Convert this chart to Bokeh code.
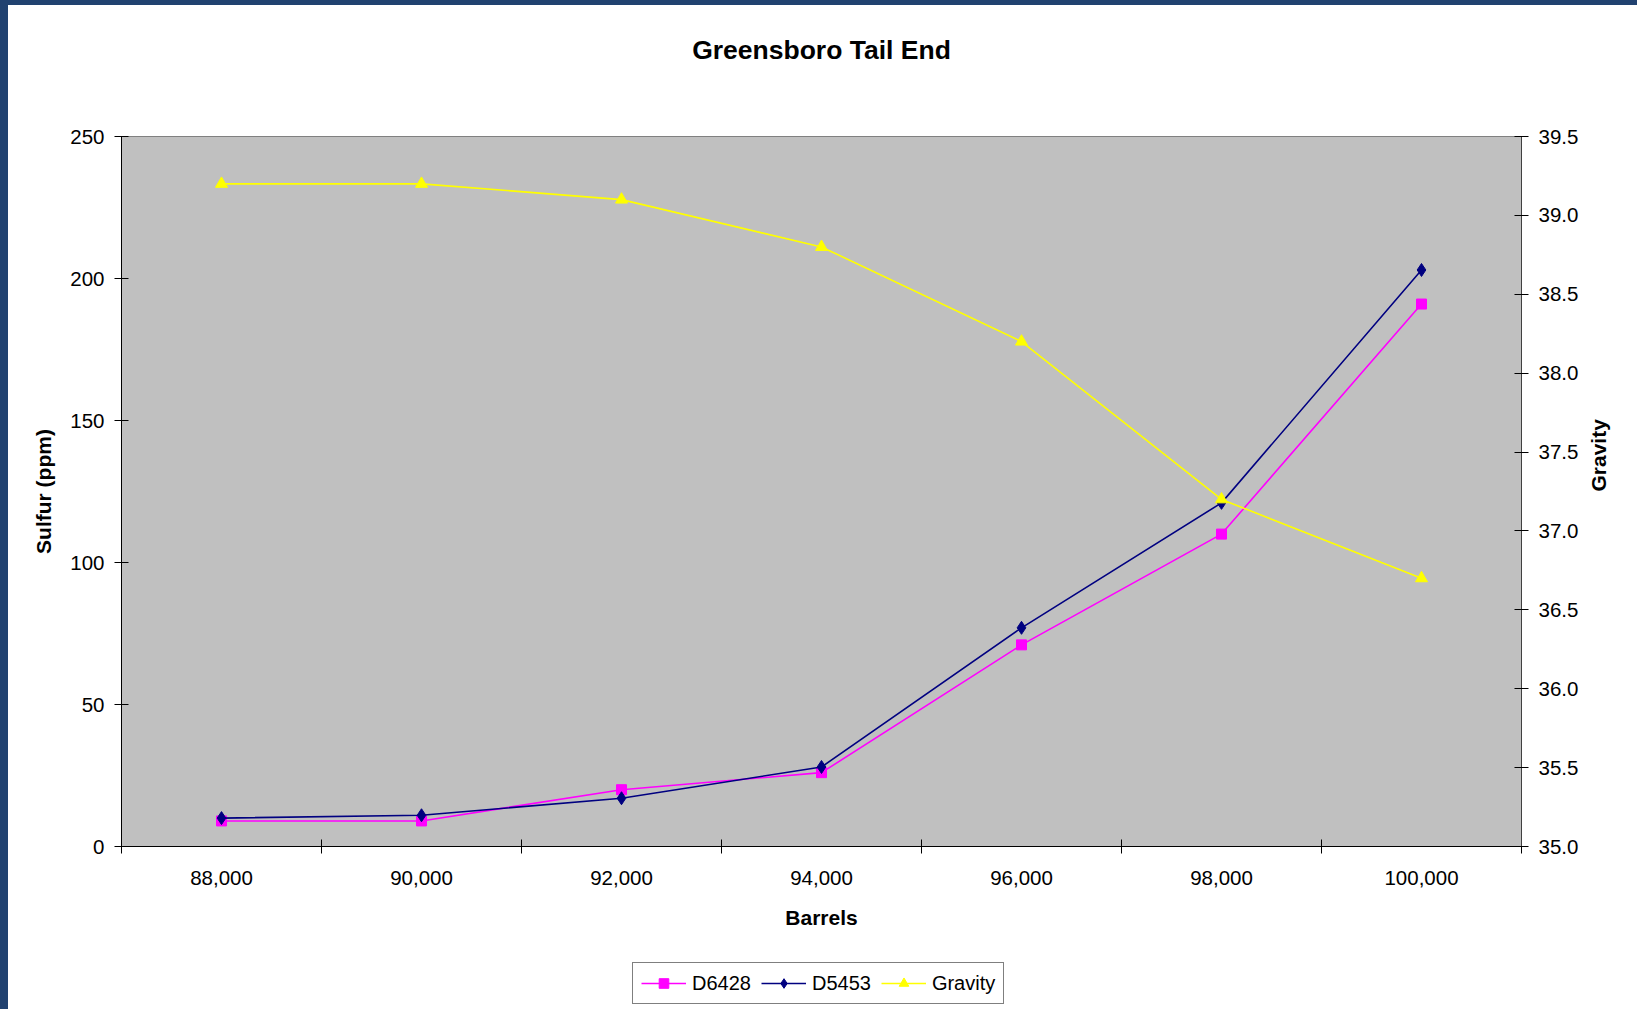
import math
from bokeh.plotting import figure
from bokeh.layouts import column
from bokeh.models import (Range1d, LinearAxis, FixedTicker, NumeralTickFormatter,
                          PrintfTickFormatter, Legend, LegendItem)
from bokeh.embed import file_html
from bokeh.resources import INLINE

# ---- data ----
barrels = [88000, 90000, 92000, 94000, 96000, 98000, 100000]
d6428 = [9, 9, 20, 26, 71, 110, 191]
d5453 = [10, 11, 17, 28, 77, 121, 203]
gravity = [39.2, 39.2, 39.1, 38.8, 38.2, 37.2, 36.7]

x_boundaries = [87000, 89000, 91000, 93000, 95000, 97000, 99000, 101000]
sulfur_ticks = [0, 50, 100, 150, 200, 250]
gravity_ticks = [35.0, 35.5, 36.0, 36.5, 37.0, 37.5, 38.0, 38.5, 39.0, 39.5]

title_text = "Greensboro Tail End"
x_label = "Barrels"
y_label = "Sulfur (ppm)"
y2_label = "Gravity"
series_names = ["D6428", "D5453", "Gravity"]

FONT = "Liberation Sans"
MAGENTA = "#FF00FF"
NAVY = "#000080"
YELLOW = "#FFFF00"
SLIDE_BLUE = "#214270"

# slide frame: blue strip on the left (8px) and top (5px)
BL, BT = 8, 5
W = 1637 - BL
H_MAIN = 950 - BT
H_LEG = 1009 - 950
ML, MR, MT = 121 - BL, 116, 136 - BT
MB = H_MAIN - (846 - BT)

p = figure(width=W, height=H_MAIN, x_range=Range1d(87000, 101000), y_range=Range1d(0, 250),
           output_backend="svg", toolbar_location=None,
           min_border_left=ML, min_border_right=MR, min_border_top=MT, min_border_bottom=MB,
           background_fill_color="#C0C0C0", border_fill_color="white",
           outline_line_color="#808080", outline_line_width=1)
p.extra_y_ranges = {"grav": Range1d(35, 39.5)}
p.xgrid.visible = False
p.ygrid.visible = False

# x axis (bottom)
xa = p.below[0]
xa.ticker = FixedTicker(ticks=barrels, minor_ticks=x_boundaries)
xa.formatter = NumeralTickFormatter(format="0,0")
xa.major_tick_in = 0
xa.major_tick_out = 0
xa.minor_tick_in = 7
xa.minor_tick_out = 7
xa.minor_tick_line_color = "black"
xa.axis_line_color = "black"
xa.major_label_standoff = 17
xa.major_label_text_font = FONT
xa.major_label_text_font_size = "20.5px"
xa.major_label_text_color = "black"
xa.axis_label = x_label
xa.axis_label_text_font = FONT
xa.axis_label_text_font_size = "21px"
xa.axis_label_text_font_style = "bold"
xa.axis_label_text_color = "black"
xa.axis_label_standoff = 18

# chart title, drawn as the label of a tick-less top axis
ta = LinearAxis(ticker=FixedTicker(ticks=[]), axis_line_color=None,
                major_tick_line_color=None, minor_tick_line_color=None,
                major_label_text_font_size="0px", major_label_standoff=0,
                axis_label=title_text, axis_label_text_font=FONT,
                axis_label_text_font_size="26.5px", axis_label_text_font_style="bold",
                axis_label_text_color="black", axis_label_standoff=72)
p.add_layout(ta, "above")

# left axis
ya = p.left[0]
ya.ticker = FixedTicker(ticks=sulfur_ticks)
ya.major_tick_in = 7
ya.major_tick_out = 7
ya.minor_tick_line_color = None
ya.axis_line_color = "black"
ya.major_label_standoff = 10
ya.major_label_text_font = FONT
ya.major_label_text_font_size = "20.5px"
ya.major_label_text_color = "black"
ya.axis_label = y_label
ya.axis_label_text_font = FONT
ya.axis_label_text_font_size = "21px"
ya.axis_label_text_font_style = "bold"
ya.axis_label_text_color = "black"
ya.axis_label_standoff = 12

# right axis
ra = LinearAxis(y_range_name="grav", ticker=FixedTicker(ticks=gravity_ticks),
                formatter=PrintfTickFormatter(format="%.1f"))
ra.major_tick_in = 7
ra.major_tick_out = 7
ra.minor_tick_line_color = None
ra.axis_line_color = "#404040"
ra.major_label_standoff = 10
ra.major_label_text_font = FONT
ra.major_label_text_font_size = "20.5px"
ra.major_label_text_color = "black"
ra.axis_label = y2_label
ra.axis_label_text_font = FONT
ra.axis_label_text_font_size = "21px"
ra.axis_label_text_font_style = "bold"
ra.axis_label_text_color = "black"
ra.axis_label_standoff = 17
if hasattr(ra, "axis_label_orientation"):
    ra.axis_label_orientation = math.pi / 2
p.add_layout(ra, "right")

# series
p.line(barrels, d6428, line_color=MAGENTA, line_width=1.6)
p.scatter(barrels, d6428, marker="square", size=10, fill_color=MAGENTA, line_color=MAGENTA)
p.line(barrels, d5453, line_color=NAVY, line_width=1.6)
p.scatter(barrels, d5453, marker="diamond", size=13, fill_color=NAVY, line_color=NAVY)
p.line(barrels, gravity, line_color=YELLOW, line_width=1.6, y_range_name="grav")
p.scatter(barrels, gravity, marker="triangle", size=12, fill_color=YELLOW, line_color=YELLOW,
          y_range_name="grav")

# legend strip below the chart (its series lie outside its own ranges, so only the key shows)
pl = figure(width=W, height=H_LEG, x_range=Range1d(0, 1), y_range=Range1d(0, 1),
            output_backend="svg", toolbar_location=None, min_border=0,
            x_axis_location=None, y_axis_location=None, outline_line_color=None,
            background_fill_color="white", border_fill_color="white")
pl.xgrid.visible = False
pl.ygrid.visible = False
k1 = pl.line(barrels, d6428, line_color=MAGENTA, line_width=1.6)
m1 = pl.scatter(barrels, d6428, marker="square", size=10, fill_color=MAGENTA, line_color=MAGENTA)
k2 = pl.line(barrels, d5453, line_color=NAVY, line_width=1.6)
m2 = pl.scatter(barrels, d5453, marker="diamond", size=13, fill_color=NAVY, line_color=NAVY)
k3 = pl.line(barrels, gravity, line_color=YELLOW, line_width=1.6)
m3 = pl.scatter(barrels, gravity, marker="triangle", size=12, fill_color=YELLOW, line_color=YELLOW)

legend = Legend(items=[LegendItem(label=series_names[0], renderers=[k1, m1]),
                       LegendItem(label=series_names[1], renderers=[k2, m2]),
                       LegendItem(label=series_names[2], renderers=[k3, m3])],
                location=(632 - 121, 1009 - 1003 - 1), orientation="horizontal",
                border_line_color="black", border_line_width=1,
                background_fill_color="white", background_fill_alpha=1.0,
                label_text_font=FONT, label_text_font_size="20px", label_text_color="black",
                glyph_width=45, glyph_height=24, label_standoff=6, spacing=10,
                padding=8, margin=0)
pl.add_layout(legend)

layout = column(p, pl, spacing=0)
layout.styles = {"border-left": f"{BL}px solid {SLIDE_BLUE}",
                 "border-top": f"{BT}px solid {SLIDE_BLUE}",
                 "box-sizing": "content-box"}
open("out.html", "w").write(file_html(layout, INLINE))
